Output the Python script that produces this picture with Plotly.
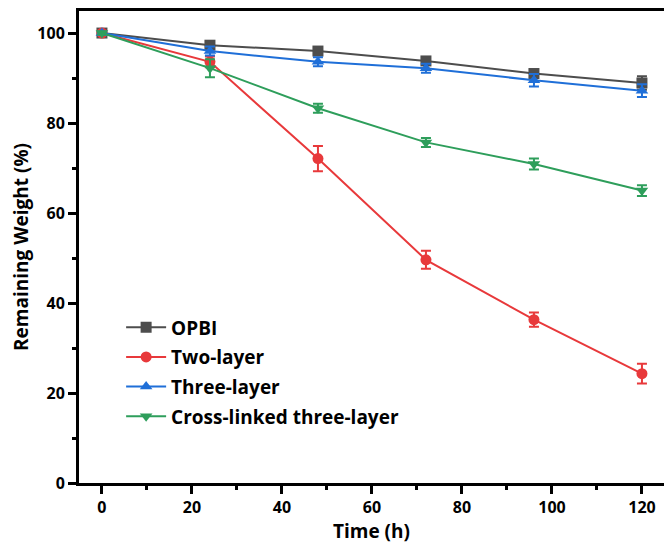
import plotly.graph_objects as go

time_h = [0, 24, 48, 72, 96, 120]
series_names = ["OPBI", "Two-layer", "Three-layer", "Cross-linked three-layer"]
opbi = [100, 97.3, 96.0, 93.8, 91.0, 88.9]
opbi_err = [0.3, 0.8, 0.6, 0.7, 0.9, 1.5]
two_layer = [100, 93.6, 72.1, 49.6, 36.3, 24.3]
two_layer_err = [0.3, 1.2, 2.8, 2.0, 1.6, 2.2]
three_layer = [100, 96.0, 93.6, 92.2, 89.5, 87.2]
three_layer_err = [0.3, 1.0, 1.0, 1.0, 1.4, 1.4]
cross_linked = [100, 92.2, 83.3, 75.7, 70.9, 65.0]
cross_linked_err = [0.3, 2.0, 1.0, 1.0, 1.2, 1.2]

colors = ["#4d4d4d", "#e8393b", "#1f6fd8", "#2e9e5b"]
symbols = ["square", "circle", "triangle-up", "triangle-down"]
ys = [opbi, two_layer, three_layer, cross_linked]
errs = [opbi_err, two_layer_err, three_layer_err, cross_linked_err]

FONT = "Open Sans"
fig = go.Figure()
for name, y, e, c, s in zip(series_names, ys, errs, colors, symbols):
    fig.add_trace(go.Scatter(
        x=time_h, y=y, name=name, legendgroup=name, mode="lines+markers",
        line=dict(color=c, width=2),
        marker=dict(symbol=s, size=11, color=c),
        error_y=dict(type="data", array=e, visible=True, color=c, thickness=2, width=5),
    ))

axis_common = dict(
    showline=True, linecolor="black", linewidth=3,
    ticks="outside", ticklen=8, tickwidth=3, tickcolor="black",
    showgrid=False, zeroline=False,
    tickfont=dict(family=FONT, size=16, color="black", weight="bold"),
)
fig.update_layout(
    width=664, height=545,
    margin=dict(l=79, r=0, t=11, b=62),
    plot_bgcolor="white", paper_bgcolor="white",
    font=dict(family=FONT, color="black"),
    xaxis=dict(range=[-5.1, 124.9], tickvals=[0, 20, 40, 60, 80, 100, 120],
               minor=dict(tickvals=[10, 30, 50, 70, 90, 110], ticklen=4, tickwidth=3, tickcolor="black", ticks="outside"),
               mirror=True,
               title=dict(text="Time (h)", font=dict(family=FONT, size=19, color="black", weight="bold"), standoff=3),
               **axis_common),
    yaxis=dict(range=[0, 104.9], tickvals=[0, 20, 40, 60, 80, 100],
               minor=dict(tickvals=[10, 30, 50, 70, 90], ticklen=4, tickwidth=3, tickcolor="black", ticks="outside"),
               title=dict(text="Remaining Weight (%)", font=dict(family=FONT, size=19, color="black", weight="bold"), standoff=4),
               **axis_common),
    legend=dict(x=0.072, y=0.37, xanchor="left", yanchor="top", bgcolor="rgba(0,0,0,0)",
                traceorder="grouped", tracegroupgap=2,
                font=dict(family=FONT, size=19, color="black", weight="bold"), itemwidth=40),
)
fig.write_html("out.html")
